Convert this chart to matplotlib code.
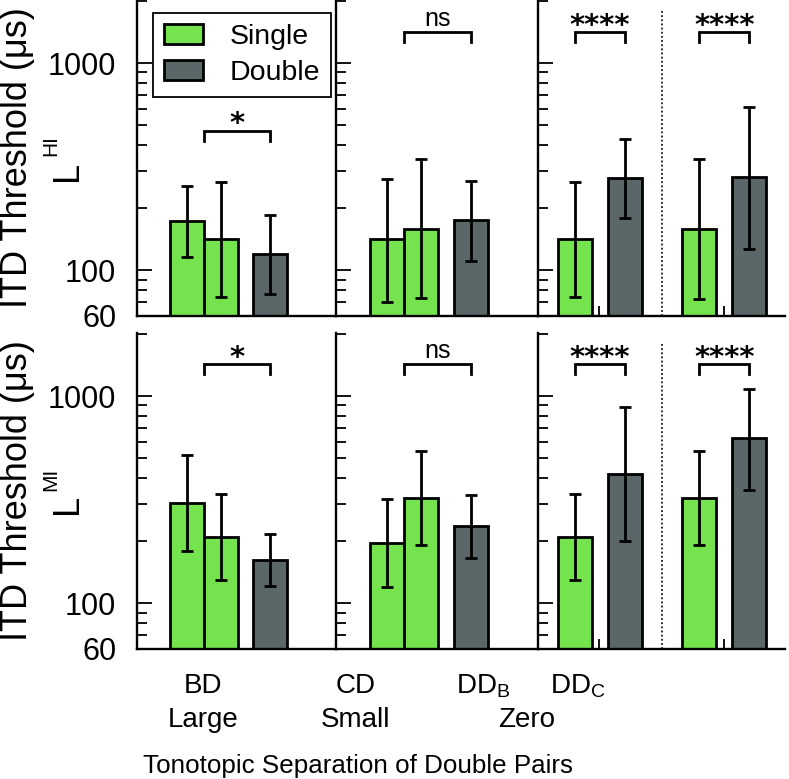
import matplotlib
matplotlib.use("Agg")
import matplotlib.pyplot as plt
from matplotlib.patches import Patch
from matplotlib.ticker import LogLocator, NullFormatter, FixedLocator
import numpy as np

plt.rcParams['font.family'] = ['Liberation Sans', 'DejaVu Sans']

# ---- data ----
group_labels = ["BD", "CD", "DD$_\\mathregular{B}$", "DD$_\\mathregular{C}$"]
separation_labels = ["Large", "Small", "Zero"]
bar_kind = ["Single", "Single", "Double",
            "Single", "Single", "Double",
            "Single", "Double", "Single", "Double"]
bar_panel = [0, 0, 0, 1, 1, 1, 2, 2, 2, 2]

hi_mean = [172, 141, 119.5, 141, 158, 174, 141, 277, 158, 280]
hi_low = [116, 74, 77, 70, 73, 111, 74, 178, 72.5, 126]
hi_high = [255, 265, 184, 275, 342, 269, 265, 428, 342, 615]

mi_mean = [305, 209, 161, 196, 323, 235, 209, 421, 323, 624]
mi_low = [179, 129, 121, 119, 190, 165, 129, 199, 190, 352]
mi_high = [519, 337, 215, 317, 542, 334, 337, 888, 542, 1084]

sig_labels = ["*", "ns", "****", "****"]
hi_sig_level = [469, 1407, 1407, 1407]
mi_sig_level = [1422, 1422, 1422, 1422]

# ---- layout ----
W, H = 789, 779
colors = {"Single": "#74e34e", "Double": "#5a6668"}
panel_px = [(137, 336), (336, 538), (538, 785)]
panel_xmax = [5.85, 5.94, 7.26]
bar_pos = [1.47, 2.46, 3.91, 1.5, 2.5, 3.96, 1.09, 2.56, 4.74, 6.21]
# bracket: (panel, left x, right x)
brackets = [(0, 1.97, 3.91), (1, 2.0, 3.96), (2, 1.09, 2.56), (2, 4.74, 6.21)]
row_px = [(0, 316), (333, 649)]

fig = plt.figure(figsize=(W / 100, H / 100), dpi=100)


def style_axes(ax, first):
    ax.set_yscale('log')
    ax.set_ylim(60, 2015)
    for s in ('top', 'right'):
        ax.spines[s].set_visible(False)
    for s in ('left', 'bottom'):
        ax.spines[s].set_linewidth(1.7)
    ax.yaxis.set_major_locator(FixedLocator([60, 100, 1000]))
    ax.yaxis.set_minor_locator(LogLocator(base=10, subs=np.arange(2, 10)))
    ax.yaxis.set_minor_formatter(NullFormatter())
    ax.set_yticklabels(["60", "100", "1000"])
    ax.tick_params(axis='y', which='major', direction='in', length=10.8,
                   width=1.3, labelsize=22, pad=15, labelleft=first)
    ax.tick_params(axis='y', which='minor', direction='in', length=7.2, width=1.3)
    ax.tick_params(axis='x', which='both', direction='in', length=7.2, width=1.3,
                   labelbottom=False)


def draw_row(y_top, y_bot, mean, low, high, sig_level, sub):
    axes = []
    for p, (x0, x1) in enumerate(panel_px):
        ax = fig.add_axes([x0 / W, 1 - y_bot / H, (x1 - x0) / W, (y_bot - y_top) / H])
        style_axes(ax, p == 0)
        ax.set_xlim(0, panel_xmax[p])
        ax.set_xticks([])
        axes.append(ax)

    for i in range(len(mean)):
        ax = axes[bar_panel[i]]
        ax.bar(bar_pos[i], mean[i], width=1, color=colors[bar_kind[i]],
               edgecolor='black', linewidth=2.0, zorder=2)
        ax.errorbar(bar_pos[i], mean[i],
                    yerr=[[mean[i] - low[i]], [high[i] - mean[i]]],
                    fmt='none', ecolor='black', elinewidth=2.0,
                    capsize=4.5, capthick=2.0, zorder=3)

    # dotted divider and small ticks in the "Zero" panel
    axes[2].axvline(3.65, ymax=0.97, color='0.1', linestyle=(0, (1, 1.3)),
                    linewidth=1.3)
    axes[2].set_xticks([1.79, 5.47])

    for k, (p, xa, xb) in enumerate(brackets):
        ax = axes[p]
        y = sig_level[k]
        ax.plot([xa, xa, xb, xb], [y * 0.895, y, y, y * 0.895],
                color='black', linewidth=2.0, solid_joinstyle='miter')
        if sig_labels[k] == "ns":
            ax.annotate("ns", xy=((xa + xb) / 2, y), xytext=(0, 4.5),
                        textcoords='offset points', ha='center', va='baseline',
                        fontsize=18)
        else:
            ax.annotate(sig_labels[k], xy=((xa + xb) / 2, y), xytext=(0, -1),
                        textcoords='offset points', ha='center', va='baseline',
                        fontsize=21, fontweight='bold', family='DejaVu Sans')

    yc = (y_top + y_bot) / 2
    fig.text(18 / W, 1 - yc / H, "ITD Threshold (μs)", rotation=90,
             ha='center', va='center', fontsize=26)
    fig.text(67 / W, 1 - (yc + 13) / H, "L", rotation=90,
             ha='center', va='center', fontsize=26)
    fig.text(51 / W, 1 - (yc - 12) / H, sub, rotation=90,
             ha='center', va='center', fontsize=15)
    return axes


top_axes = draw_row(row_px[0][0], row_px[0][1], hi_mean, hi_low, hi_high,
                    hi_sig_level, "HI")
draw_row(row_px[1][0], row_px[1][1], mi_mean, mi_low, mi_high,
         mi_sig_level, "MI")

handles = [Patch(facecolor=colors[k], edgecolor='black', linewidth=2.0)
           for k in ("Single", "Double")]
leg = top_axes[0].legend(handles, ["Single", "Double"], loc='upper left',
                         bbox_to_anchor=(0.08, 0.959), borderaxespad=0,
                         fontsize=20.5, handlelength=1.37, handleheight=0.68,
                         handletextpad=0.95, labelspacing=0.35, borderpad=0.38,
                         fancybox=False, framealpha=1, edgecolor='black')
leg.get_frame().set_linewidth(1.3)

# x-axis labels
for lab, x in zip(group_labels, [203, 356, 483, 578]):
    fig.text(x / W, 1 - 693 / H, lab, ha='center', va='baseline', fontsize=20)
for lab, x in zip(separation_labels, [203, 356, 527]):
    fig.text(x / W, 1 - 727 / H, lab, ha='center', va='baseline', fontsize=20)
fig.text(358 / W, 1 - 773 / H, "Tonotopic Separation of Double Pairs",
         ha='center', va='baseline', fontsize=18.7)

fig.savefig("out.png", dpi=100)
